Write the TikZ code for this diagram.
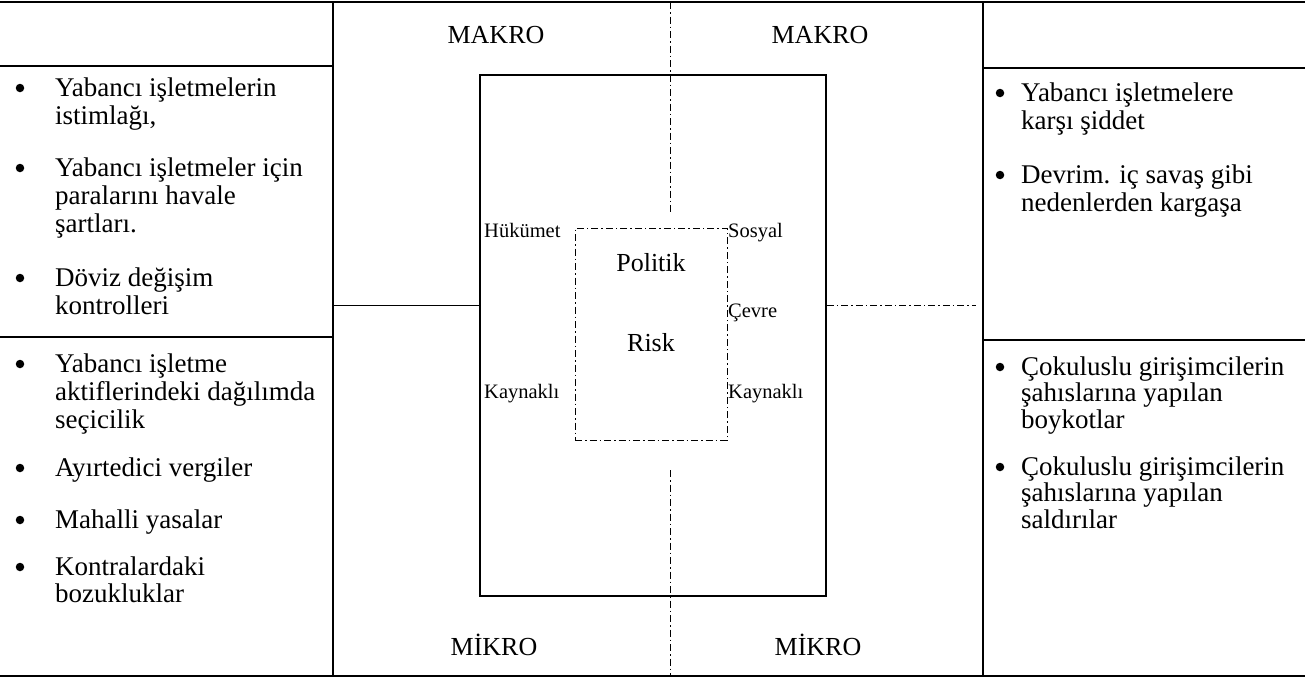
\documentclass[tikz,border=0pt]{standalone}
\usepackage{fontspec}
\setmainfont{Liberation Serif}
\begin{document}
\begin{tikzpicture}[x=1pt,y=-1pt,
  txt/.style={anchor=base west,inner sep=0pt,font=\fontsize{27}{28}\selectfont},
  bul/.style={circle,fill=black,inner sep=0pt,minimum size=8.5pt},
  big/.style={inner sep=0pt,font=\fontsize{26}{28}\selectfont},
  small/.style={anchor=base west,inner sep=0pt,font=\fontsize{20.5}{24}\selectfont},
  frame/.style={line width=1.6pt},
  thinline/.style={line width=0.9pt},
  dsh/.style={line width=0.7pt,dash pattern=on 7pt off 3pt on 1.5pt off 3pt}]
\useasboundingbox (0,0) rectangle (1305,678);
% grid coordinates
\coordinate (TL) at (0,2);   \coordinate (TR) at (1305,2);
\coordinate (BL) at (0,676); \coordinate (BR) at (1305,676);
\coordinate (c1t) at (333,2); \coordinate (c1b) at (333,676);
\coordinate (c2t) at (983,2); \coordinate (c2b) at (983,676);
\coordinate (h1l) at (0,66);   \coordinate (h1r) at (333,66);
\coordinate (h2l) at (983,68); \coordinate (h2r) at (1305,68);
\coordinate (s1l) at (0,337);  \coordinate (s1r) at (333,337);
\coordinate (s2l) at (983,340);\coordinate (s2r) at (1305,340);
\coordinate (ml) at (333,305); \coordinate (mr) at (976,305);
\coordinate (vt) at (670,2);   \coordinate (vtm) at (670,215);
\coordinate (vbm) at (670,470);\coordinate (vb) at (670,676);
% frame
\draw[frame] (TL) -- (TR);
\draw[frame] (BL) -- (BR);
\draw[frame] (c1t) -- (c1b);
\draw[frame] (c2t) -- (c2b);
\draw[frame] (h1l) -- (h1r);
\draw[frame] (h2l) -- (h2r);
\draw[frame] (s1l) -- (s1r);
\draw[frame] (s2l) -- (s2r);
% centre boxes
\node[draw,frame,minimum width=346pt,minimum height=521pt,inner sep=0pt] (outer) at (653,335.5) {};
\node[draw,dsh,minimum width=152pt,minimum height=212pt,inner sep=0pt] (inner) at (651,334) {};
\draw[thinline] (ml) -- (ml -| outer.west);
\draw[dsh] (mr -| outer.east) -- (mr);
\draw[dsh] (vt) -- (vtm);
\draw[dsh] (vbm) -- (vb);
% centre labels
\node[big] (mak1) at (496,35) {MAKRO};
\node[big] (mak2) at (820,35) {MAKRO};
\node[big] (mik1) at (494,645) {MİKRO};
\node[big] (mik2) at (818,645) {MİKRO};
\node[big] (pol) at (651,263) {Politik};
\node[big] (risk) at (651,343) {Risk};
\node[small] (huk) at (484,237) {Hükümet};
\node[small] (sos) at (728,237) {Sosyal};
\node[small] (cev) at (728,317) {Çevre};
\node[small] (kay1) at (484,398) {Kaynaklı};
\node[small] (kay2) at (728,398) {Kaynaklı};
% left column bullets
\foreach \n/\y in {1/96,2/176,3/286,4/372,5/476,6/528,7/575}
  \node[bul] (lb\n) at (20,\y-8) {};
\foreach \n/\y/\t in {1/96/{Yabancı işletmelerin},2/124/{istimlağı,},
  3/176/{Yabancı işletmeler için},4/204/{paralarını havale},5/232/{şartları.},
  6/286/{Döviz değişim},7/314/{kontrolleri},
  8/372/{Yabancı işletme},9/400/{aktiflerindeki dağılımda},10/428/{seçicilik},
  11/476/{Ayırtedici vergiler},12/528/{Mahalli yasalar},
  13/575/{Kontralardaki},14/602/{bozukluklar}}
  \node[txt] (lt\n) at (55,\y) {\t};
% right column bullets
\foreach \n/\y in {1/101,2/183,3/375,4/475}
  \node[bul] (rb\n) at (1000,\y-8) {};
\foreach \n/\y/\t in {1/101/{Yabancı işletmelere},2/129/{karşı şiddet},
  3/183/{Devrim. iç savaş gibi},4/211/{nedenlerden kargaşa},
  5/375/{Çokuluslu girişimcilerin},6/401/{şahıslarına yapılan},7/428/{boykotlar},
  8/475/{Çokuluslu girişimcilerin},9/501/{şahıslarına yapılan},10/528/{saldırılar}}
  \node[txt] (rt\n) at (1021,\y) {\t};
\end{tikzpicture}
\end{document}
